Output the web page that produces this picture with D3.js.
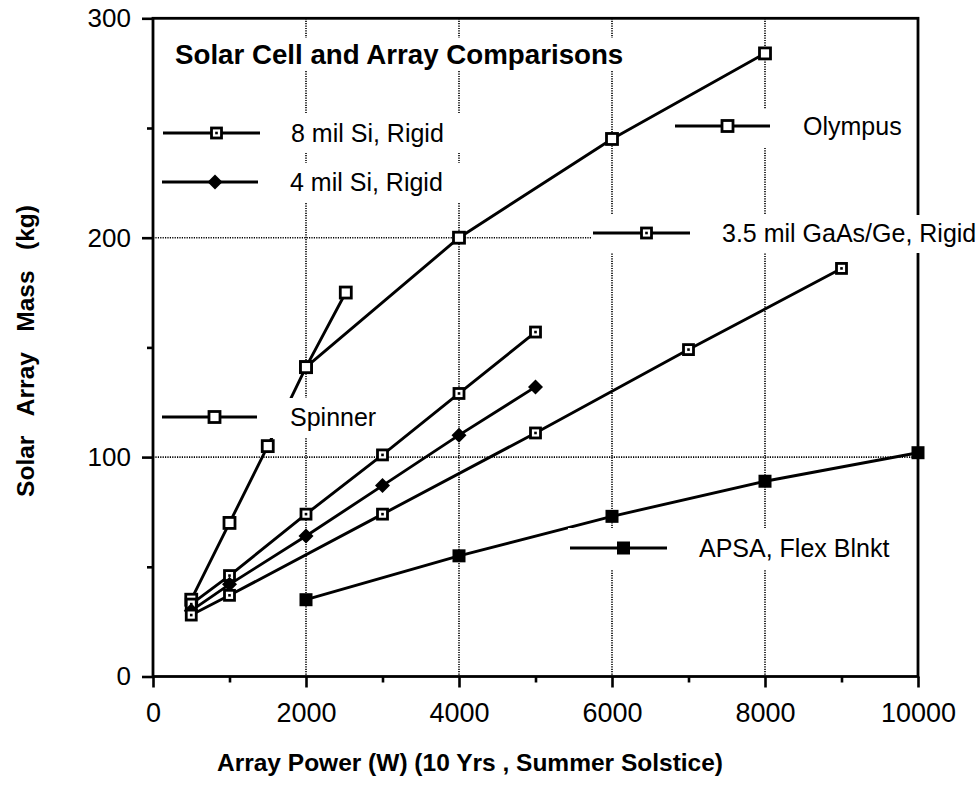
<!DOCTYPE html>
<html>
<head>
<meta charset="utf-8">
<script src="https://cdn.jsdelivr.net/npm/d3@7"></script>
<style>
  html, body { margin: 0; padding: 0; background: #fff; }
  svg { display: block; }
  text { font-family: "Liberation Sans", Arial, Helvetica, sans-serif; fill: #000; }
</style>
</head>
<body>
<svg id="chart" width="979" height="785"></svg>
<script>
// Axis ticks
const xMajorTicks = [0, 2000, 4000, 6000, 8000, 10000];
const xMinorTicks = [1000, 3000, 5000, 7000, 9000];
const yMajorTicks = [0, 100, 200, 300];
const yMinorTicks = [50, 150, 250];
const xGrid = [2000, 4000, 6000, 8000];
const yGrid = [100, 200];

// Array power (W) and solar array mass (kg) per configuration
const spinnerPower = [500, 1000, 1500, 2000, 2520];
const spinnerMass  = [35, 70, 105, 141, 175];
const olympusPower = [2000, 4000, 6000, 8000];
const olympusMass  = [141, 200, 245, 284];
const si8Power = [500, 1000, 2000, 3000, 4000, 5000];
const si8Mass  = [33, 46, 74, 101, 129, 157];
const si4Power = [500, 1000, 2000, 3000, 4000, 5000];
const si4Mass  = [30, 42, 64, 87, 110, 132];
const gaasPower = [500, 1000, 3000, 5000, 7000, 9000];
const gaasMass  = [28, 37, 74, 111, 149, 186];
const apsaPower = [2000, 4000, 6000, 8000, 10000];
const apsaMass  = [35, 55, 73, 89, 102];

const seriesNames = ["Spinner", "Olympus", "8 mil Si, Rigid", "4 mil Si, Rigid",
                     "3.5 mil GaAs/Ge, Rigid", "APSA, Flex Blnkt"];

const svg = d3.select("#chart");
const x = d3.scaleLinear().domain([0, 10000]).range([153, 918]);
const y = d3.scaleLinear().domain([0, 300]).range([676.5, 18.3]);

const series = [
  { name: seriesNames[0], px: spinnerPower, py: spinnerMass, marker: "open" },
  { name: seriesNames[1], px: olympusPower, py: olympusMass, marker: "open" },
  { name: seriesNames[2], px: si8Power, py: si8Mass, marker: "dot" },
  { name: seriesNames[3], px: si4Power, py: si4Mass, marker: "diamond" },
  { name: seriesNames[4], px: gaasPower, py: gaasMass, marker: "dot" },
  { name: seriesNames[5], px: apsaPower, py: apsaMass, marker: "filled" }
];

// Dotted grid
const grid = svg.append("g").attr("stroke", "#000").attr("stroke-width", 1.6)
  .attr("stroke-dasharray", "1.2,1.2");
grid.selectAll("line.gx").data(xGrid).join("line").attr("class", "gx")
  .attr("x1", d => x(d)).attr("x2", d => x(d)).attr("y1", y(300)).attr("y2", y(0));
grid.selectAll("line.gy").data(yGrid).join("line").attr("class", "gy")
  .attr("x1", x(0)).attr("x2", x(10000)).attr("y1", d => y(d)).attr("y2", d => y(d));

// Axes
const xAxis = svg.append("g").attr("transform", `translate(0,${y(0)})`)
  .call(d3.axisBottom(x).tickValues(xMajorTicks).tickSize(11).tickPadding(15)
    .tickFormat(d3.format("d")));
const xAxisMinor = svg.append("g").attr("transform", `translate(0,${y(0)})`)
  .call(d3.axisBottom(x).tickValues(xMinorTicks).tickSize(6).tickFormat(""));
const yAxis = svg.append("g").attr("transform", `translate(${x(0)},0)`)
  .call(d3.axisLeft(y).tickValues(yMajorTicks).tickSize(11).tickPadding(11)
    .tickFormat(d3.format("d")));
const yAxisMinor = svg.append("g").attr("transform", `translate(${x(0)},0)`)
  .call(d3.axisLeft(y).tickValues(yMinorTicks).tickSize(6).tickFormat(""));
[xAxis, xAxisMinor, yAxis, yAxisMinor].forEach(a => {
  a.select(".domain").remove();
  a.selectAll(".tick line").attr("stroke", "#000").attr("stroke-width", 2.6);
  a.selectAll("text").attr("font-size", 26).attr("font-family", null).attr("fill", "#000");
});
xAxis.selectAll("text").attr("dy", "0.71em").attr("font-size", 27);

// Frame
svg.append("rect")
  .attr("x", x(0)).attr("y", y(300))
  .attr("width", x(10000) - x(0)).attr("height", y(0) - y(300))
  .attr("fill", "none").attr("stroke", "#000").attr("stroke-width", 2.8);

// Marker drawing
function drawMarker(g, kind, cx, cy) {
  if (kind === "open" || kind === "dot") {
    const s = kind === "open" ? 11 : 10;
    g.append("rect").attr("x", cx - s / 2).attr("y", cy - s / 2)
      .attr("width", s).attr("height", s)
      .attr("fill", "#fff").attr("stroke", "#000").attr("stroke-width", 2.8);
    if (kind === "dot") {
      g.append("rect").attr("x", cx - 1.3).attr("y", cy - 1.3)
        .attr("width", 2.6).attr("height", 2.6).attr("fill", "#000");
    }
  } else if (kind === "filled") {
    g.append("rect").attr("x", cx - 6.5).attr("y", cy - 6.5)
      .attr("width", 13).attr("height", 13).attr("fill", "#000");
  } else if (kind === "diamond") {
    g.append("path")
      .attr("d", `M${cx},${cy - 7.5}L${cx + 7.5},${cy}L${cx},${cy + 7.5}L${cx - 7.5},${cy}Z`)
      .attr("fill", "#000");
  }
}

// Lines and markers
const line = d3.line().x(d => x(d[0])).y(d => y(d[1]));
const plot = svg.append("g");
series.forEach(s => {
  const pts = s.px.map((p, i) => [p, s.py[i]]);
  plot.append("path").datum(pts).attr("d", line)
    .attr("fill", "none").attr("stroke", "#000").attr("stroke-width", 2.9)
    .attr("stroke-linejoin", "round");
});
series.forEach(s => {
  s.px.forEach((p, i) => drawMarker(plot, s.marker, x(p), y(s.py[i])));
});

// Opaque text blocks: title and series keys
const title = svg.append("g");
title.append("rect").attr("x", 168).attr("y", 38).attr("width", 464).attr("height", 32)
  .attr("fill", "#fff");
title.append("text").attr("x", 175).attr("y", 54).attr("dy", "0.35em")
  .attr("font-size", 27.7).attr("font-weight", "bold")
  .text("Solar Cell and Array Comparisons");

const keys = [
  { s: 2, x0: 163, x1: 260, cy: 133, tx: 291, box: [160, 113, 462, 153] },
  { s: 3, x0: 162, x1: 258, cy: 182, tx: 290, box: [160, 163, 462, 203] },
  { s: 1, x0: 675, x1: 770, cy: 126, tx: 803, box: [672, 109, 908, 147] },
  { s: 4, x0: 593, x1: 690, cy: 233, tx: 722, box: [592, 215, 979, 253] },
  { s: 0, x0: 162, x1: 257, cy: 417, tx: 290, box: [159, 398, 382, 438] },
  { s: 5, x0: 570, x1: 667, cy: 548, tx: 699, box: [568, 528, 892, 570] }
];
keys.forEach(k => {
  const g = svg.append("g");
  g.append("rect").attr("x", k.box[0]).attr("y", k.box[1])
    .attr("width", k.box[2] - k.box[0]).attr("height", k.box[3] - k.box[1])
    .attr("fill", "#fff");
  g.append("line").attr("x1", k.x0).attr("x2", k.x1).attr("y1", k.cy).attr("y2", k.cy)
    .attr("stroke", "#000").attr("stroke-width", 2.9);
  drawMarker(g, series[k.s].marker, (k.x0 + k.x1) / 2 + 5, k.cy);
  g.append("text").attr("x", k.tx).attr("y", k.cy).attr("dy", "0.35em")
    .attr("font-size", 25).text(series[k.s].name);
});

// Axis titles
svg.append("text").attr("x", 470).attr("y", 762).attr("dy", "0.35em")
  .attr("text-anchor", "middle").attr("font-size", 24.5).attr("font-weight", "bold")
  .text("Array Power (W) (10 Yrs , Summer Solstice)");

const yt = svg.append("text").attr("transform", "translate(25,351) rotate(-90)")
  .attr("dy", "0.35em").attr("text-anchor", "middle")
  .attr("font-size", 24.5).attr("font-weight", "bold")
  .style("white-space", "pre");
yt.text("Solar   Array   Mass   (kg)");
</script>
</body>
</html>
